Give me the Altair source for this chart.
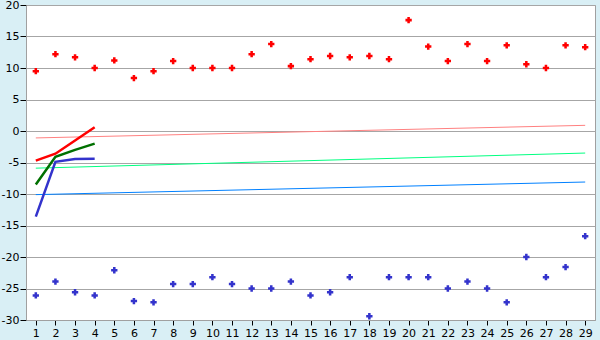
import altair as alt
import pandas as pd

cats = list(range(1, 30))
red_pts = [9.5, 12.2, 11.7, 10.0, 11.2, 8.4, 9.5, 11.1, 10.0, 10.0,
           10.0, 12.2, 13.8, 10.3, 11.4, 11.9, 11.7, 11.9, 11.4, 17.6,
           13.4, 11.1, 13.8, 11.1, 13.6, 10.6, 10.0, 13.6, 13.3]
blue_pts = [-26.1, -23.9, -25.6, -26.1, -22.1, -27.0, -27.2, -24.3, -24.3, -23.2,
            -24.3, -25.0, -25.0, -23.9, -26.1, -25.6, -23.2, -29.4, -23.2, -23.2,
            -23.2, -25.0, -23.9, -25.0, -27.2, -20.0, -23.2, -21.6, -16.7]

short_x = [1, 2, 3, 4]
red_line = [-4.7, -3.6, -1.5, 0.6]
green_line = [-8.5, -4.1, -3.0, -2.0]
blue_line = [-13.6, -4.9, -4.45, -4.4]

trend_x = [1, 29]
trend_pink = [-1.1, 0.9]
trend_green = [-5.9, -3.5]
trend_blue = [-10.1, -8.1]

y_ticks = list(range(-30, 21, 5))

pts = pd.DataFrame({
    "x": cats * 2,
    "y": red_pts + blue_pts,
    "s": ["red"] * 29 + ["blue"] * 29,
})
lines = pd.DataFrame({
    "x": short_x * 3,
    "y": red_line + green_line + blue_line,
    "s": ["r"] * 4 + ["g"] * 4 + ["b"] * 4,
})
trends = pd.DataFrame({
    "x": trend_x * 3,
    "y": trend_pink + trend_green + trend_blue,
    "s": ["p"] * 2 + ["sg"] * 2 + ["db"] * 2,
})

xscale = alt.Scale(domain=[0.5, 29.5], nice=False, zero=False)
yscale = alt.Scale(domain=[-30, 20], nice=False, zero=False)
xaxis = alt.Axis(values=cats, grid=False, title=None, tickSize=5, tickColor="#000000",
                 domainColor="#a0a0a0", labelFontSize=11, labelColor="#000000",
                 labelFont="DejaVu Sans", labelPadding=2, labelFlush=False,
                 labelOverlap=False)
yaxis = alt.Axis(values=y_ticks, grid=True, gridColor="#a6a6a6", title=None,
                 tickSize=6, tickColor="#000000", domainColor="#a0a0a0", labelFontSize=11,
                 labelColor="#000000", labelFont="DejaVu Sans", labelPadding=1,
                 labelOverlap=False, labelFlush=False,
                 labelExpr="datum.value < 0 ? '-' + abs(datum.value) : '' + datum.value")

X = alt.X("x:Q", scale=xscale, axis=xaxis)
Y = alt.Y("y:Q", scale=yscale, axis=yaxis)

trend_layer = alt.Chart(trends).mark_line(strokeWidth=1).encode(
    x=X, y=Y,
    color=alt.Color("s:N", scale=alt.Scale(domain=["p", "sg", "db"],
                                           range=["#ff8080", "#00ff80", "#0080ff"]), legend=None),
    detail="s:N",
)

line_layer = alt.Chart(lines).mark_line(strokeWidth=2.5).encode(
    x=X, y=Y,
    color=alt.Color("s:N", scale=alt.Scale(domain=["r", "g", "b"],
                                           range=["#ff0000", "#007000", "#3333cc"]), legend=None),
    detail="s:N",
)

pt_layer = alt.Chart(pts).mark_point(shape="cross", filled=True, size=40, opacity=1).encode(
    x=X, y=Y,
    fill=alt.Color("s:N", scale=alt.Scale(domain=["red", "blue"],
                                          range=["#ff0000", "#3333cc"]), legend=None),
)

chart = alt.layer(trend_layer, line_layer, pt_layer).resolve_scale(color="independent").properties(
    width=569, height=315,
    autosize=alt.AutoSizeParams(type="none"),
    padding={"left": 26, "top": 5, "right": 5, "bottom": 20},
    background="#d9eff5",
).configure_view(fill="#ffffff", stroke="#a0a0a0", strokeWidth=1)

chart.save("out.html", embed_options={"renderer": "svg", "actions": False})
